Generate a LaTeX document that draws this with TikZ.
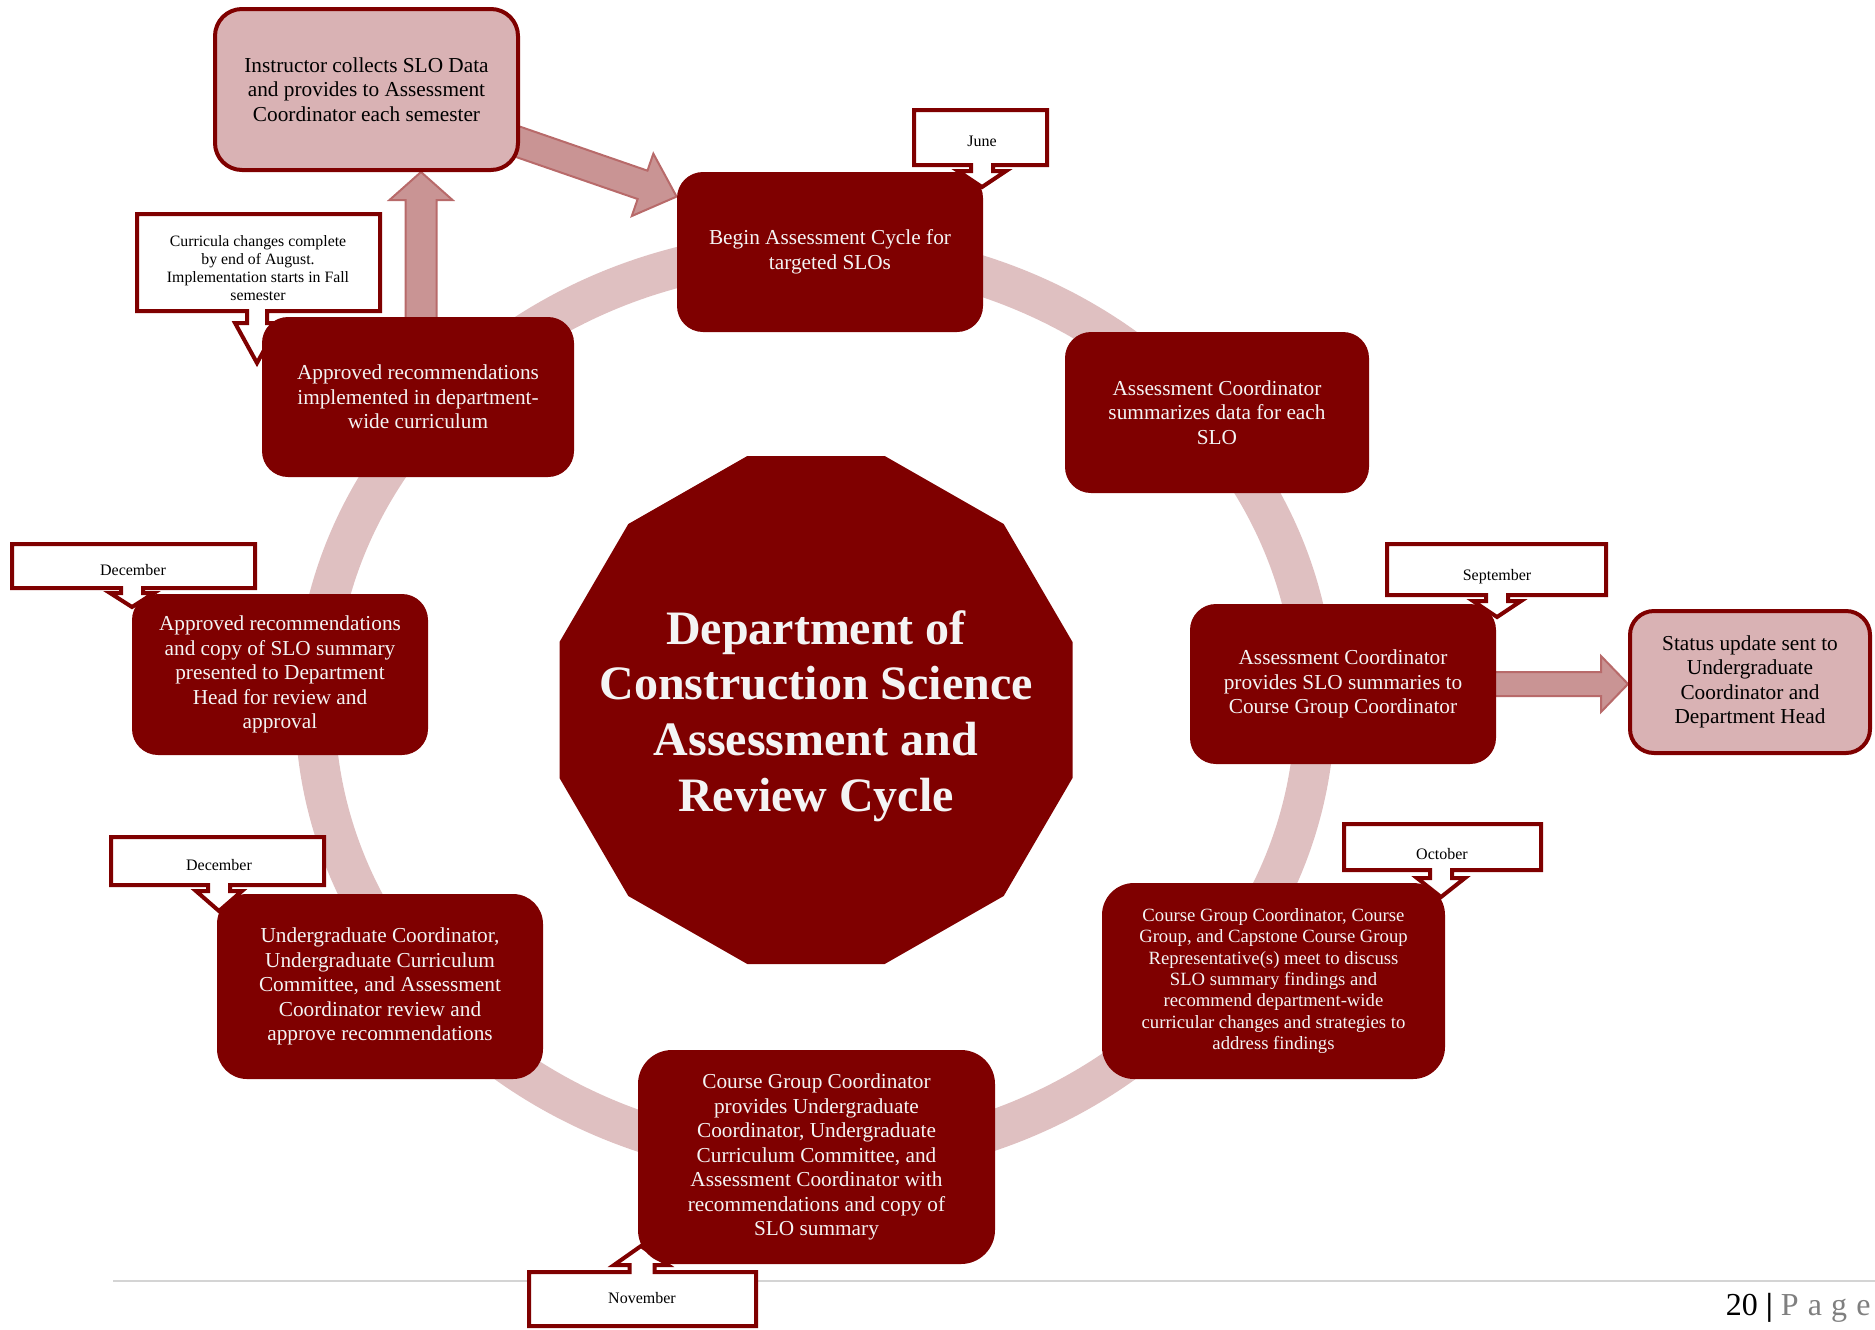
\documentclass[tikz,border=0pt]{standalone}
\usepackage{fontspec}
\setmainfont{Liberation Serif}
\usetikzlibrary{calc}
\pgfdeclarelayer{back}
\pgfdeclarelayer{mid}
\pgfsetlayers{back,mid,main}
\definecolor{dred}{HTML}{7F0000}
\definecolor{pinkfill}{HTML}{D9B2B4}
\definecolor{ringc}{HTML}{DFC0C1}
\definecolor{arrfill}{HTML}{C99494}
\definecolor{arrdraw}{HTML}{B86A6A}
\definecolor{boxtext}{HTML}{F4F4F4}
\definecolor{footgray}{HTML}{D4D4D4}
\definecolor{pagegray}{HTML}{7F7F7F}
\tikzset{
  lowered/.style={execute at begin node={\vspace*{3pt}}},
  darkbox/.style={rectangle, fill=dred, draw=none, text=boxtext, align=center, inner sep=0pt, lowered, font=\fontsize{10.65}{12.25}\selectfont},
  pinkbox/.style={rectangle, fill=pinkfill, draw=dred, line width=2pt, text=black, align=center, inner sep=0pt, lowered, font=\fontsize{10.65}{12.2}\selectfont},
  calloutshape/.style={fill=white, draw=dred, line width=2pt},
  calltext/.style={font=\fontsize{8}{9.6}\selectfont, text=black, align=center, inner sep=0pt},
  ringstyle/.style={draw=ringc, line width=20pt},
  blockarr/.style={fill=arrfill, draw=arrdraw, line width=1pt},
  titletext/.style={font=\bfseries\fontsize{24}{27.8}\selectfont, text=boxtext, align=center, inner sep=0pt},
  footline/.style={draw=footgray, line width=0.8pt}
}
% start, tip, shaft half width, head half width, head length
\newcommand{\blockarrow}[5]{%
  \coordinate (baS) at (#1);
  \coordinate (baT) at (#2);
  \coordinate (baP) at ($(baT)!#5!(baS)$);
  \path[blockarr] ($(baS)!#3!90:(baT)$) -- ($(baP)!#3!90:(baT)$) -- ($(baP)!#4!90:(baT)$) -- (baT)
     -- ($(baP)!#4!-90:(baT)$) -- ($(baP)!#3!-90:(baT)$) -- ($(baS)!#3!-90:(baT)$) -- cycle;}
% x1 y1 x2 y2 stemx stemhalf heady headhalf tipy
\newcommand{\calloutdown}[9]{%
  \path[calloutshape] (#1,#2) -- (#3,#2) -- (#3,#4) -- ({#5+#6},#4) -- ({#5+#6},#7) -- ({#5+#8},#7)
     -- (#5,#9) -- ({#5-#8},#7) -- ({#5-#6},#7) -- ({#5-#6},#4) -- (#1,#4) -- cycle;}
\begin{document}
\begin{tikzpicture}[x=0.5pt,y=-0.5pt]
\useasboundingbox (0,0) rectangle (1875,1329);

% ---- process boxes
\node[pinkbox, minimum width=151.5pt, minimum height=80.5pt, rounded corners=13.5pt] (instr) at (366.5,89.5)
  {Instructor collects SLO Data\\and provides to Assessment\\Coordinator each semester};
\node[darkbox, minimum width=153pt, minimum height=80pt, rounded corners=13pt] (begin) at (830,252)
  {Begin Assessment Cycle for\\targeted SLOs};
\node[darkbox, minimum width=152pt, minimum height=80.5pt, rounded corners=13pt] (summ) at (1217,412.5)
  {Assessment Coordinator\\summarizes data for each\\SLO};
\node[darkbox, minimum width=153pt, minimum height=80pt, rounded corners=13pt] (sept) at (1343,684)
  {Assessment Coordinator\\provides SLO summaries to\\Course Group Coordinator};
\node[pinkbox, minimum width=120pt, minimum height=71pt, rounded corners=12pt] (status) at (1750,682)
  {Status update sent to\\Undergraduate\\Coordinator and\\Department Head};
\node[darkbox, font=\fontsize{9.35}{10.65}\selectfont, minimum width=171.5pt, minimum height=98pt, rounded corners=16pt] (oct) at (1273.5,981)
  {Course Group Coordinator, Course\\Group, and Capstone Course Group\\Representative(s) meet to discuss\\SLO summary findings and\\recommend department-wide\\curricular changes and strategies to\\address findings};
\node[darkbox, minimum width=178.5pt, minimum height=107pt, rounded corners=17pt] (nov) at (816.5,1157)
  {Course Group Coordinator\\provides Undergraduate\\Coordinator, Undergraduate\\Curriculum Committee, and\\Assessment Coordinator with\\recommendations and copy of\\SLO summary};
\node[darkbox, minimum width=163pt, minimum height=92.5pt, rounded corners=15pt] (decl) at (380,986.5)
  {Undergraduate Coordinator,\\Undergraduate Curriculum\\Committee, and Assessment\\Coordinator review and\\approve recommendations};
\node[darkbox, minimum width=148pt, minimum height=80.5pt, rounded corners=13pt] (decu) at (280,674.5)
  {Approved recommendations\\and copy of SLO summary\\presented to Department\\Head for review and\\approval};
\node[darkbox, minimum width=156pt, minimum height=80pt, rounded corners=13pt] (impl) at (418,397)
  {Approved recommendations\\implemented in department-\\wide curriculum};

% ---- central dodecagon
\path[fill=dred] (747.3,456) -- (884.7,456) -- (1003.7,524) -- (1072.5,642) -- (1072.5,778) -- (1003.7,896)
  -- (884.7,964) -- (747.3,964) -- (628.3,896) -- (559.5,778) -- (559.5,642) -- (628.3,524) -- cycle;
\node[titletext] (title) at (816,716) {Department of\\Construction Science\\Assessment and\\Review Cycle};

% ---- background: footer line and ring
\begin{pgfonlayer}{back}
\draw[footline] (113,1281) -- (1875,1281);
\draw[ringstyle] (815,705) ellipse [x radius=250pt, y radius=227.5pt];
\end{pgfonlayer}

% ---- block arrows and callouts under boxes
\begin{pgfonlayer}{mid}
\blockarrow{instr.center}{[yshift=-12.5pt]begin.north west}{7.5pt}{16.5pt}{18pt}
\coordinate (a2s) at ([xshift=1.5pt]impl.center);
\blockarrow{a2s}{a2s |- instr.south}{7.75pt}{15.75pt}{14pt}
\blockarrow{sept.center}{sept.center -| status.west}{6pt}{14pt}{13.5pt}
\calloutdown{137}{214}{380}{311}{257}{10}{323}{22}{363}
\path[calloutshape] (529,1272) -- (629.5,1272) -- (629.5,1265) -- (614,1265) -- (641,1246) -- (668,1265)
  -- (654.5,1265) -- (654.5,1272) -- (756,1272) -- (756,1326) -- (529,1326) -- cycle;
\end{pgfonlayer}
\node[calltext, font=\fontsize{7.9}{8.9}\selectfont] (curr) at (258,268)
  {Curricula changes complete\\by end of August.\\Implementation starts in Fall\\semester};
\node[calltext, anchor=base] (novl) at (642,1303) {November};

% ---- callouts on top
\calloutdown{914}{110}{1047}{165}{982}{11}{171}{24}{187}
\node[calltext, anchor=base] (junel) at (982,146.5) {June};
\calloutdown{1387}{544}{1606}{595}{1497}{11}{601}{24}{617}
\node[calltext, anchor=base] (sepl) at (1497,580) {September};
\calloutdown{1344}{824}{1541}{870}{1441}{11}{878}{24}{897}
\node[calltext, anchor=base] (octl) at (1442,859) {October};
\calloutdown{12}{544}{255}{588}{132}{11}{593}{22}{607}
\node[calltext, anchor=base] (decul) at (133,575.5) {December};
\calloutdown{111}{837}{324}{885}{219}{11}{891}{23}{911}
\node[calltext, anchor=base] (decll) at (219,870.5) {December};

% ---- page number
\node[anchor=base east, inner sep=0pt, font=\fontsize{16}{19}\selectfont] (pagenum) at (1871,1315)
  {20 \textbf{|} \textcolor{pagegray}{P\hspace{0.6pt} a\hspace{0.6pt} g\hspace{0.6pt} e}};
\end{tikzpicture}
\end{document}
